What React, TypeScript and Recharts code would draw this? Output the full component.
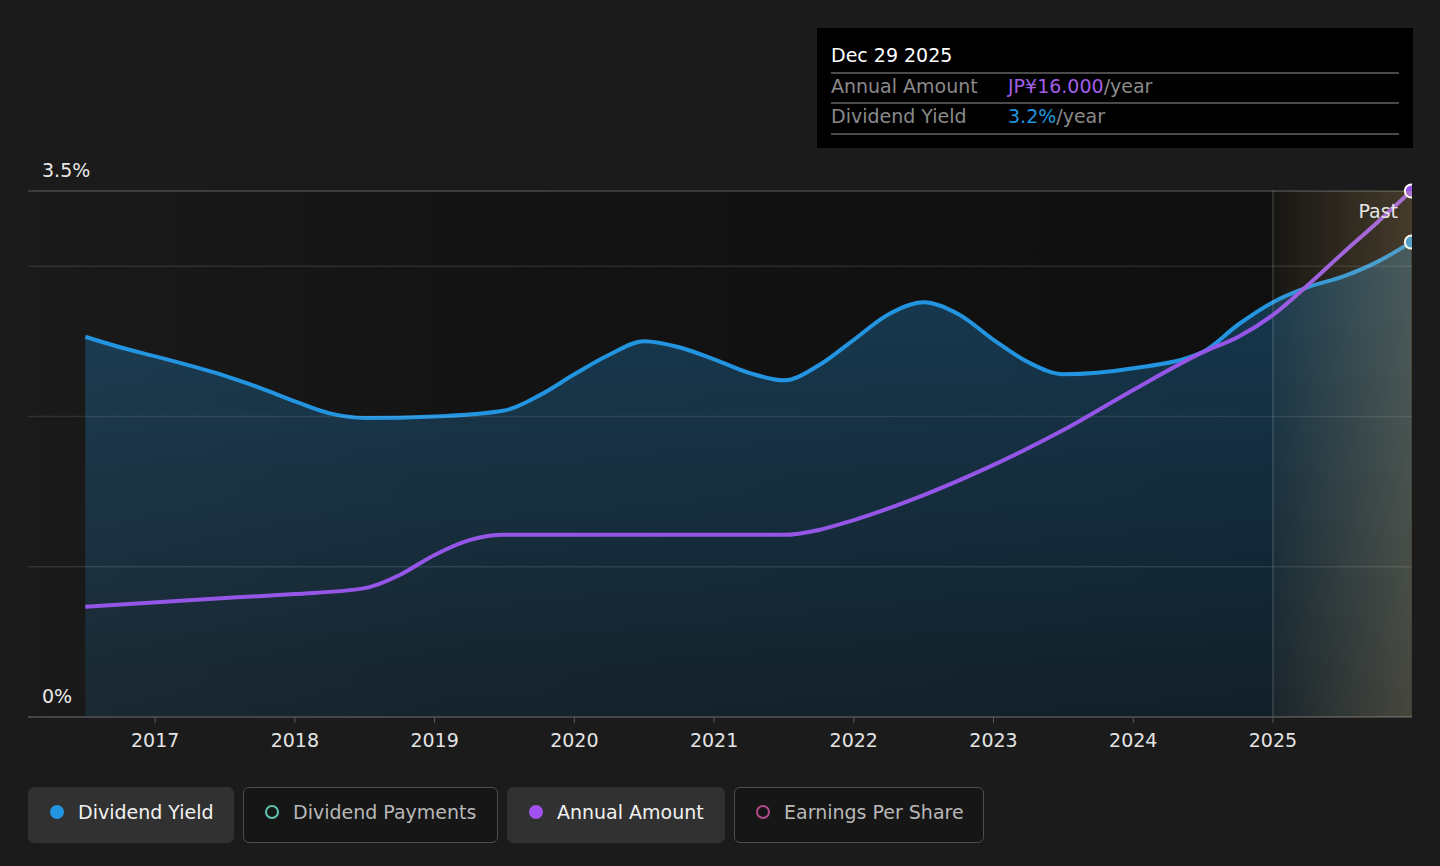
import {
  ComposedChart,
  Area,
  Line,
  XAxis,
  YAxis,
  CartesianGrid,
  ReferenceLine,
  ReferenceArea,
} from 'recharts'

// dividend yield, %
const yieldYears = [
  2016.5, 2016.75, 2017, 2017.5, 2017.75, 2018, 2018.25, 2018.5, 2019, 2019.5, 2019.75, 2020,
  2020.25, 2020.5, 2020.75, 2021, 2021.25, 2021.5, 2021.75, 2022, 2022.25, 2022.5, 2022.75, 2023,
  2023.25, 2023.5, 2024, 2024.5, 2024.75, 2025, 2025.25, 2025.5, 2025.75, 2025.99,
]
const yieldPct = [
  2.53, 2.46, 2.4, 2.27, 2.19, 2.1, 2.02, 1.99, 2.0, 2.04, 2.14, 2.28,
  2.41, 2.5, 2.46, 2.38, 2.29, 2.24, 2.34, 2.51, 2.68, 2.76, 2.68, 2.51,
  2.36, 2.28, 2.32, 2.43, 2.61, 2.76, 2.86, 2.93, 3.03, 3.16,
]

// annual amount, JP¥ per share
const amountYears = [
  2016.5, 2017.5, 2018, 2018.5, 2018.75, 2019, 2019.25, 2019.5, 2021.5, 2021.75, 2022, 2022.5,
  2023, 2023.5, 2024, 2024.5, 2024.75, 2025, 2025.25, 2025.5, 2025.75, 2025.99,
]
const amountJpy = [
  3.35, 3.62, 3.74, 3.92, 4.32, 4.93, 5.38, 5.54, 5.54, 5.69, 5.99, 6.75,
  7.67, 8.73, 9.95, 11.1, 11.56, 12.23, 13.14, 14.11, 15.06, 16.0,
]

const yearTicks = [2017, 2018, 2019, 2020, 2021, 2022, 2023, 2024, 2025]
const pctLabels = [0, 3.5]
const pctGrid = [1, 2, 3]
const pastStart = 2025
const xDomain = [2016.09, 2025.995]

const legendItems = [
  { label: 'Dividend Yield', color: '#2394DF', on: true, width: 206 },
  { label: 'Dividend Payments', color: '#5EC4AE', on: false, width: 255 },
  { label: 'Annual Amount', color: '#A052F0', on: true, width: 218 },
  { label: 'Earnings Per Share', color: '#B04A88', on: false, width: 250 },
]

const BLUE = '#2394DF'
const PURPLE = '#9556E8'
const FONT = '"DejaVu Sans", sans-serif'

const yieldData = yieldYears.map((t, i) => ({ t, y: yieldPct[i] }))
const amountData = amountYears.map((t, i) => ({ t, a: amountJpy[i] }))

const endDot = (last: number, color: string) => (props: any) => {
  if (props.index !== last) return <g key={props.index} />
  return (
    <circle
      key={props.index}
      cx={props.cx}
      cy={props.cy}
      r={6.5}
      fill={color}
      stroke="#fff"
      strokeWidth={2}
    />
  )
}

// axis value label sitting just above its gridline, at the left of the plot
const pctLabel = (v: number) => (props: any) => {
  const vb = props.viewBox || {}
  return (
    <text
      x={(vb.x ?? 28) + 14}
      y={(vb.y ?? 0) - 20}
      fill="#e8e8e8"
      fontSize={19}
      fontFamily={FONT}
      dominantBaseline="middle"
    >
      {v}%
    </text>
  )
}

export default function App() {
  return (
    <div
      style={{
        position: 'relative',
        width: 1440,
        height: 866,
        background: '#1b1b1b',
        fontFamily: FONT,
        overflow: 'hidden',
      }}
    >
      <style>{'body{margin:0;background:#1b1b1b}'}</style>
      <ComposedChart
        width={1440}
        height={866}
        margin={{ top: 191, right: 28, bottom: 119, left: 28 }}
        style={{ fontFamily: FONT }}
      >
        <defs>
          <linearGradient id="plotBg" x1="0" y1="0" x2="1" y2="0">
            <stop offset="0" stopColor="#1a1a1a" />
            <stop offset="0.3" stopColor="#141414" />
            <stop offset="0.9" stopColor="#0f0f0f" />
            <stop offset="1" stopColor="#0f0f0f" />
          </linearGradient>
          <linearGradient id="yieldFill" x1="0" y1="0" x2="0" y2="1">
            <stop offset="0" stopColor={BLUE} stopOpacity={0.32} />
            <stop offset="1" stopColor={BLUE} stopOpacity={0.12} />
          </linearGradient>
          <linearGradient id="pastFill" x1="0" y1="0" x2="1" y2="0">
            <stop offset="0" stopColor="#f0c882" stopOpacity={0.04} />
            <stop offset="1" stopColor="#f0c882" stopOpacity={0.24} />
          </linearGradient>
        </defs>
        <CartesianGrid horizontal={false} vertical={false} fill="url(#plotBg)" stroke="none" />
        <XAxis
          dataKey="t"
          type="number"
          domain={xDomain}
          ticks={yearTicks}
          allowDataOverflow
          tickFormatter={(v) => String(v)}
          tick={{ fill: '#e4e4e4', fontSize: 19, fontFamily: FONT }}
          tickLine={{ stroke: '#5a5a5a' }}
          tickSize={6}
          tickMargin={11}
          axisLine={{ stroke: '#555', strokeWidth: 1.5 }}
          height={30}
        />
        <YAxis yAxisId="pct" type="number" domain={[0, 3.5]} hide />
        <YAxis yAxisId="amt" type="number" domain={[0, 16]} hide />
        {pctGrid.map((g) => (
          <ReferenceLine key={g} yAxisId="pct" y={g} stroke="rgba(255,255,255,0.1)" strokeWidth={1.5} />
        ))}
        {pctLabels.map((v) => (
          <ReferenceLine
            key={'l' + v}
            yAxisId="pct"
            y={v}
            stroke={v === 0 ? 'none' : '#484848'}
            strokeWidth={1.5}
            label={pctLabel(v)}
          />
        ))}
        <ReferenceLine yAxisId="pct" x={pastStart} stroke="rgba(255,255,255,0.16)" strokeWidth={1.5} />
        <Area
          yAxisId="pct"
          data={yieldData}
          dataKey="y"
          type="monotone"
          stroke={BLUE}
          strokeWidth={4}
          fill="url(#yieldFill)"
          fillOpacity={1}
          dot={endDot(yieldData.length - 1, BLUE)}
          activeDot={false}
          isAnimationActive={false}
        />
        <Line
          yAxisId="amt"
          data={amountData}
          dataKey="a"
          type="monotone"
          stroke={PURPLE}
          strokeWidth={4}
          dot={endDot(amountData.length - 1, PURPLE)}
          activeDot={false}
          isAnimationActive={false}
        />
        <ReferenceArea
          yAxisId="pct"
          x1={pastStart}
          x2={xDomain[1]}
          y1={0}
          y2={3.5}
          fill="url(#pastFill)"
          fillOpacity={1}
          stroke="none"
          ifOverflow="hidden"
          zIndex={1500}
          label={{ value: 'Past', position: 'insideTopRight', fill: '#e6e6e6', fontSize: 19, offset: 14, fontFamily: FONT }}
        />
      </ComposedChart>

      <div
        style={{
          position: 'absolute',
          left: 817,
          top: 28,
          width: 596,
          height: 120,
          background: '#000',
          fontSize: 19,
        }}
      >
        <div style={{ position: 'absolute', left: 14, top: 15, lineHeight: '24px', color: '#fff' }}>
          Dec 29 2025
        </div>
        <div style={{ position: 'absolute', left: 14, right: 14, top: 44, height: 1.5, background: '#4a4a4a' }} />
        <div style={{ position: 'absolute', left: 14, top: 46, lineHeight: '24px', color: '#8a8a8a' }}>
          Annual Amount
        </div>
        <div style={{ position: 'absolute', left: 191, top: 46, lineHeight: '24px', color: '#8a8a8a' }}>
          <span style={{ color: '#A35EE8' }}>JP¥16.000</span>/year
        </div>
        <div style={{ position: 'absolute', left: 14, right: 14, top: 74, height: 1.5, background: '#4a4a4a' }} />
        <div style={{ position: 'absolute', left: 14, top: 76, lineHeight: '24px', color: '#8a8a8a' }}>
          Dividend Yield
        </div>
        <div style={{ position: 'absolute', left: 191, top: 76, lineHeight: '24px', color: '#8a8a8a' }}>
          <span style={{ color: BLUE }}>3.2%</span>/year
        </div>
        <div style={{ position: 'absolute', left: 14, right: 14, top: 105, height: 1.5, background: '#4a4a4a' }} />
      </div>

      <div style={{ position: 'absolute', left: 28, top: 787, display: 'flex', gap: 9 }}>
        {legendItems.map((it) => (
          <div
            key={it.label}
            style={{
              boxSizing: 'border-box',
              width: it.width,
              height: 56,
              display: 'flex',
              alignItems: 'center',
              paddingLeft: 21,
              paddingBottom: 7,
              borderRadius: 6,
              background: it.on ? '#313131' : '#161616',
              border: it.on ? '1.5px solid #313131' : '1.5px solid #4d4d4d',
              color: it.on ? '#f2f2f2' : '#b8b8b8',
              fontSize: 19,
            }}
          >
            <span
              style={{
                boxSizing: 'border-box',
                width: 14,
                height: 14,
                borderRadius: '50%',
                background: it.on ? it.color : 'transparent',
                border: it.on ? 'none' : `2.5px solid ${it.color}`,
                marginRight: 14,
                flexShrink: 0,
              }}
            />
            {it.label}
          </div>
        ))}
      </div>
    </div>
  )
}
